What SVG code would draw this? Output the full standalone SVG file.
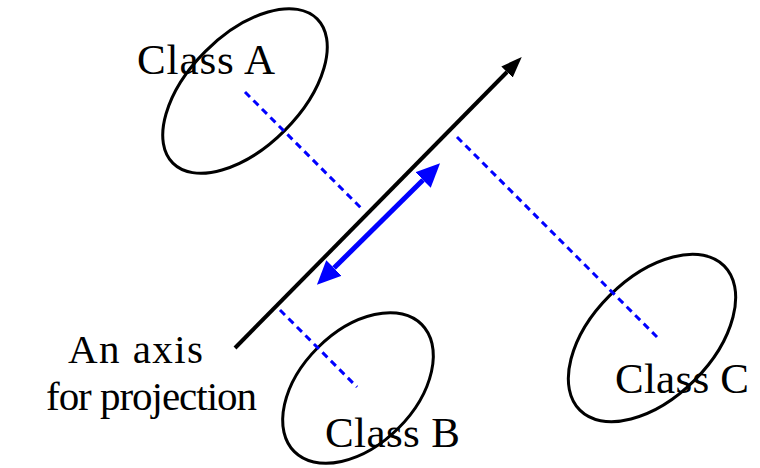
<svg xmlns="http://www.w3.org/2000/svg" width="760" height="468" viewBox="0 0 760 468">
<style>
.cls{fill:none;stroke:#000;stroke-width:3}
.lbl{font-family:"Liberation Serif","Times New Roman",serif;font-size:43px;fill:#000}
.ax{font-size:41px}
.proj{stroke:#0000ff;stroke-width:3;stroke-dasharray:7,5;fill:none}
</style>
<defs>
<marker id="ah" markerUnits="userSpaceOnUse" markerWidth="22" markerHeight="18" refX="0" refY="8" orient="auto" viewBox="0 0 22 16">
<path d="M0,0 L21,8 L0,16 Z" fill="#000"/>
</marker>
<marker id="bh" markerUnits="userSpaceOnUse" markerWidth="25" markerHeight="22" refX="0" refY="11" orient="auto-start-reverse" viewBox="0 0 25 22">
<path d="M0,0 L24,11 L0,22 Z" fill="#0000ff"/>
</marker>
</defs>
<g id="classA">
<ellipse class="cls" cx="245" cy="91" rx="102" ry="56" transform="rotate(-45 245 91)"/>
<text class="lbl" x="137" y="74" textLength="138" lengthAdjust="spacing">Class A</text>
</g>
<g id="classB">
<ellipse class="cls" cx="358" cy="388" rx="90" ry="57" transform="rotate(-45 358 388)"/>
<text class="lbl" x="325" y="447" textLength="135" lengthAdjust="spacing">Class B</text>
</g>
<g id="classC">
<ellipse class="cls" cx="652" cy="338" rx="102" ry="60" transform="rotate(-45 652 338)"/>
<text class="lbl" x="615" y="393" textLength="134" lengthAdjust="spacing">Class C</text>
</g>
<g id="axis-label">
<text class="lbl ax" x="68" y="363" textLength="135" lengthAdjust="spacing">An axis</text>
<text class="lbl ax" x="46" y="410" textLength="211" lengthAdjust="spacing">for projection</text>
</g>
<g id="connectors">
<line class="proj" x1="245" y1="92" x2="363" y2="210"/>
<line class="proj" x1="457" y1="137" x2="657" y2="337"/>
<line class="proj" x1="280" y1="310" x2="357" y2="387"/>
<line x1="235" y1="348" x2="507" y2="72" stroke="#000" stroke-width="4" marker-end="url(#ah)"/>
<line x1="334" y1="268" x2="423" y2="180" stroke="#0000ff" stroke-width="5" marker-start="url(#bh)" marker-end="url(#bh)"/>
</g>
</svg>
